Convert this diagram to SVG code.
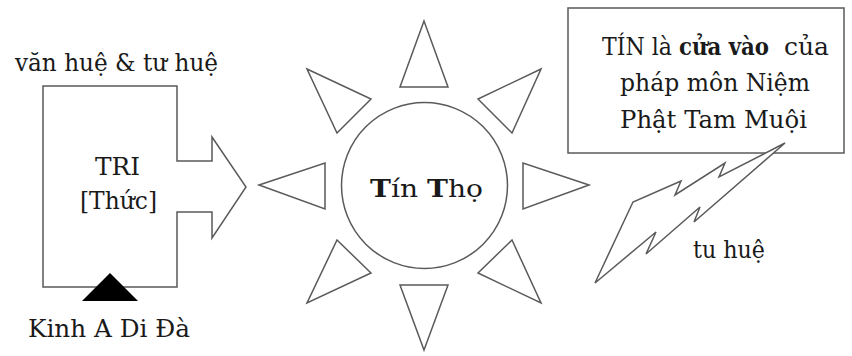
<svg xmlns="http://www.w3.org/2000/svg" width="852" height="356" viewBox="0 0 852 356">
<style>
.wh{fill:#fff;stroke:#5a5a5a;stroke-width:1.5;stroke-linejoin:miter}
.t{font-family:'DejaVu Serif',serif;font-size:25px;fill:#1a1a1a}
.b{font-weight:bold}
</style>
<rect width="852" height="356" fill="#fff"/>
<g id="tri">
<path class="wh" d="M43,86 H177 V161 H212 V137 L246,187 L212,238 V212 H177 V287 H43 Z"/>
<text class="t" x="117.5" y="175" text-anchor="middle" textLength="45" lengthAdjust="spacingAndGlyphs">TRI</text>
<text class="t" x="118.5" y="209" text-anchor="middle" textLength="77" lengthAdjust="spacingAndGlyphs">[Thức]</text>
</g>
<g id="label-top">
<text class="t" x="15" y="71" textLength="203" lengthAdjust="spacingAndGlyphs">văn huệ &amp; tư huệ</text>
</g>
<g id="kinh">
<path d="M110,273 L138,301 L82,301 Z" fill="#000"/>
<text class="t" x="28" y="337" textLength="162" lengthAdjust="spacingAndGlyphs">Kinh A Di Đà</text>
</g>
<g id="sun">
<circle class="wh" cx="424.5" cy="185.5" r="83"/>
<polygon class="wh" points="424,21 448,87 400,87"/>
<polygon class="wh" points="424,350 448,285 400,285"/>
<polygon class="wh" points="259,185 325,163 325,209"/>
<polygon class="wh" points="589,185 523,163 523,209"/>
<polygon class="wh" points="307,69 371,99 337,133"/>
<polygon class="wh" points="541,69 478,99 512,133"/>
<polygon class="wh" points="337,240 371,273 307,303"/>
<polygon class="wh" points="512,240 478,273 541,303"/>
<text class="t" x="370" y="197" textLength="113" lengthAdjust="spacingAndGlyphs"><tspan class="b">T</tspan>ín <tspan class="b">T</tspan>họ</text>
</g>
<g id="note">
<rect class="wh" x="568" y="8" width="276" height="145"/>
<text class="t" x="602" y="55" textLength="70" lengthAdjust="spacingAndGlyphs">TÍN là</text>
<text class="t b" x="679" y="55" textLength="90" lengthAdjust="spacingAndGlyphs">cửa vào</text>
<text class="t" x="784" y="55" textLength="45" lengthAdjust="spacingAndGlyphs">của</text>
<text class="t" x="715" y="91" text-anchor="middle" textLength="190" lengthAdjust="spacingAndGlyphs">pháp môn Niệm</text>
<text class="t" x="713.5" y="128" text-anchor="middle" textLength="187" lengthAdjust="spacingAndGlyphs">Phật Tam Muội</text>
</g>
<g id="connectors">
<polygon class="wh" points="785,143 719,177 725,163 675,195 681,181 633,202 595,283 656,232 646,254 700,207 694,222"/>
</g>
<g id="label-tu">
<text class="t" x="693" y="258" textLength="72" lengthAdjust="spacingAndGlyphs">tu huệ</text>
</g>
</svg>
